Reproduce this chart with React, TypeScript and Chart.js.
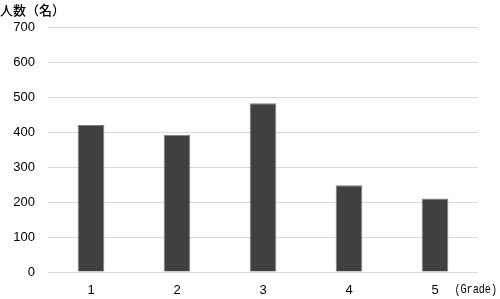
import React, { useEffect, useRef } from "react";
import { Chart, registerables } from "chart.js";

Chart.register(...registerables);

const categories = ["1", "2", "3", "4", "5"];
const values = [420, 392, 482, 248, 210];
const yTicks = [0, 100, 200, 300, 400, 500, 600, 700];
const yTitle = "人数（名）";
const xUnit = "(Grade)";

const textPlugin = {
  id: "extraText",
  afterDraw(chart: any) {
    const ctx = chart.ctx;
    ctx.save();
    ctx.fillStyle = "#000";
    ctx.textBaseline = "middle";
    ctx.textAlign = "left";
    ctx.font = "500 13px 'Noto Sans CJK JP'";
    ctx.fillText(yTitle, 0, 10);
    ctx.restore();
    ctx.save();
    ctx.fillStyle = "#000";
    ctx.textBaseline = "middle";
    ctx.textAlign = "right";
    ctx.font = "13px 'Liberation Mono'";
    ctx.translate(497, 290);
    ctx.scale(0.78, 1);
    ctx.fillText(xUnit, 0, 0);
    ctx.restore();
  },
};

export default function App() {
  const ref = useRef<HTMLCanvasElement>(null);
  useEffect(() => {
    document.body.style.margin = "0";
    const chart = new Chart(ref.current!, {
      type: "bar",
      data: {
        labels: categories,
        datasets: [
          {
            data: values,
            backgroundColor: "#404040",
            borderColor: "#7f7f7f",
            borderWidth: 1,
            categoryPercentage: 1,
            barPercentage: 0.31,
          },
        ],
      },
      options: {
        animation: false,
        responsive: false,
        layout: { padding: { top: 27, right: 22, left: 0, bottom: 0 } },
        plugins: { legend: { display: false }, tooltip: { enabled: false } },
        scales: {
          x: {
            grid: { display: false, drawTicks: false },
            border: { display: false },
            ticks: {
              color: "#000",
              font: { family: "'Liberation Sans'", size: 13 },
              padding: 11,
            },
            afterFit: (s: any) => {
              s.height = 27;
            },
          },
          y: {
            min: 0,
            max: 700,
            afterBuildTicks: (s: any) => {
              s.ticks = yTicks.map((v) => ({ value: v }));
            },
            grid: { color: "#d9d9d9", lineWidth: 1, drawTicks: false },
            border: { display: false },
            ticks: {
              color: "#000",
              font: { family: "'Liberation Sans'", size: 13 },
              padding: 13,
            },
            afterFit: (s: any) => {
              s.width = 48;
            },
          },
        },
      },
      plugins: [textPlugin],
    });
    return () => chart.destroy();
  }, []);
  return (
    <div style={{ width: 500, height: 299 }}>
      <canvas ref={ref} width={500} height={299} />
    </div>
  );
}
